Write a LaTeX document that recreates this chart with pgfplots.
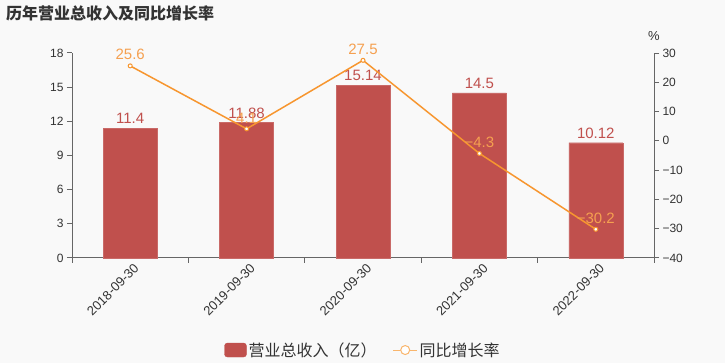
\documentclass[border=0pt]{standalone}
\usepackage{fontspec}
\setmainfont{Liberation Sans}
\newfontfamily\cjk{Noto Sans CJK SC}
\usepackage{pgfplots}
\pgfplotsset{compat=1.18}
\definecolor{bg}{HTML}{F9F9F9}
\definecolor{barc}{HTML}{C0504D}
\definecolor{linec}{HTML}{F7962F}
\definecolor{linelab}{HTML}{F5A050}
\definecolor{axc}{HTML}{666666}
\definecolor{txt}{HTML}{333333}
\pgfplotsset{common/.style={
  scale only axis, width=582pt, height=205pt, at={(72pt,105pt)}, anchor=south west,
  xmin=-0.5, xmax=4.5, clip=false,
  tick label style={font=\fontsize{12}{14}\selectfont, text=txt},
  /pgf/number format/assume math mode=true,
  axis line style={axc, line width=1pt},
  tick style={axc, line width=1pt},
  tick align=outside,
  major tick length=5pt,
}}
\begin{document}
\begin{tikzpicture}[x=1pt,y=1pt]
\fill[bg] (0,0) rectangle (725,363);
\node[anchor=west, font=\cjk\bfseries\fontsize{16}{18}\selectfont, text=txt, inner sep=0pt] at (6,350) {历年营业总收入及同比增长率};

\begin{axis}[common,
  axis y line*=left, axis x line*=bottom,
  ymin=0, ymax=18, ytick={0,3,...,18},
  xtick={-0.5,0.5,1.5,2.5,3.5,4.5}, xticklabels={,,,,,},
  extra x ticks={0,1,2,3,4},
  extra x tick labels={2018-09-30,2019-09-30,2020-09-30,2021-09-30,2022-09-30},
  extra x tick style={major tick length=0pt, tick label style={rotate=45, anchor=north east, yshift=-2pt, xshift=2pt, font=\fontsize{13}{15}\selectfont}},
]
\addplot[ybar, bar width=54pt, fill=barc, draw=barc!85!white,
  point meta=explicit symbolic, nodes near coords,
  nodes near coords style={font=\fontsize{15}{17}\selectfont, text=barc, anchor=south, yshift=1pt}]
  coordinates {(0,11.4)[11.4] (1,11.88)[11.88] (2,15.14)[15.14] (3,14.5)[14.5] (4,10.12)[10.12]};
\end{axis}

\begin{axis}[common,
  axis y line*=right, axis x line=none, xtick=\empty,
  ymin=-40, ymax=30, ytick={-40,-30,-20,-10,0,10,20,30},
  yticklabels={−40,−30,−20,−10,0,10,20,30},
  ylabel={\%},
  every axis y label/.style={at={(rel axis cs:1,1)}, anchor=south, yshift=9pt, font=\fontsize{13}{15}\selectfont, text=txt},
  legend style={at={(0.5,-0.449)}, anchor=center, draw=none, fill=none, legend columns=2,
    font=\cjk\fontsize{16}{18}\selectfont, text=txt,
    /tikz/every even column/.append style={column sep=14pt}},
]
\addlegendimage{legend image code/.code={\fill[barc, rounded corners=3pt] (0pt,-7pt) rectangle (22pt,7pt);}}
\addlegendentry{营业总收入（亿）}
\addplot[linec, line width=1.5pt, mark=*, mark size=2pt,
  mark options={fill=white, draw=linec, line width=1pt},
  point meta=explicit symbolic, nodes near coords,
  nodes near coords style={font=\fontsize{15}{17}\selectfont, text=linelab, anchor=south, yshift=2pt},
  legend image code/.code={\draw[linec!70!white, line width=1pt] (0pt,0pt) -- (24pt,0pt); \draw[linec!70!white, fill=white, line width=1pt] (12pt,0pt) circle (4.5pt);}]
  coordinates {(0,25.6)[25.6] (1,4.1)[4.1] (2,27.5)[27.5] (3,-4.3)[−4.3] (4,-30.2)[−30.2]};
\addlegendentry{同比增长率}
\end{axis}
\pgfresetboundingbox
\path (0,0) rectangle (725,363);
\end{tikzpicture}
\end{document}
